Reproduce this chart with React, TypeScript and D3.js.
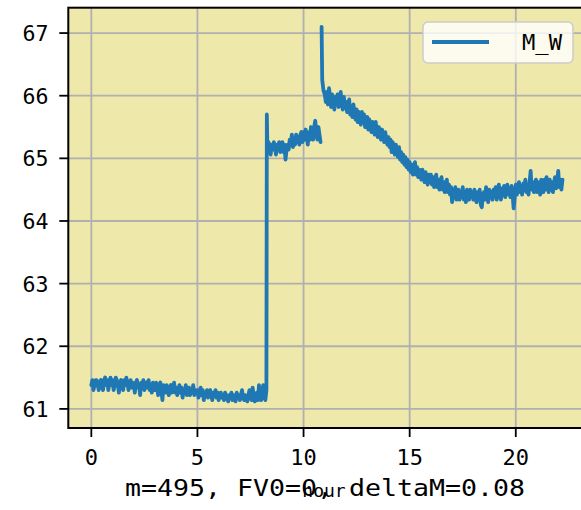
import React from "react";
import * as d3 from "d3";

// ---- data (hours, M_W) ----
const stepHours = 0.05;

const seg1Start = 0.0;
const seg1Values = [
  61.38, 61.46, 61.30, 61.38, 61.46, 61.46, 61.38, 61.30, 61.42, 61.46,
  61.38, 61.30, 61.46, 61.50, 61.38, 61.46, 61.30, 61.42, 61.50, 61.38,
  61.46, 61.30, 61.38, 61.50, 61.46, 61.38, 61.26, 61.42, 61.46, 61.38,
  61.30, 61.46, 61.38, 61.50, 61.42, 61.30, 61.38, 61.46, 61.34, 61.42,
  61.38, 61.26, 61.42, 61.46, 61.34, 61.38, 61.22, 61.42, 61.38, 61.46,
  61.30, 61.38, 61.42, 61.34, 61.46, 61.30, 61.38, 61.26, 61.42, 61.38,
  61.30, 61.42, 61.34, 61.22, 61.38, 61.42, 61.30, 61.14, 61.38, 61.34,
  61.26, 61.38, 61.30, 61.22, 61.34, 61.38, 61.26, 61.30, 61.42, 61.26,
  61.34, 61.22, 61.30, 61.38, 61.26, 61.34, 61.18, 61.30, 61.26, 61.38,
  61.22, 61.30, 61.34, 61.22, 61.30, 61.26, 61.38, 61.22, 61.30, 61.26,
  61.30, 61.18, 61.26, 61.34, 61.22, 61.30, 61.14, 61.26, 61.22, 61.30,
  61.18, 61.26, 61.30, 61.22, 61.14, 61.26, 61.22, 61.30, 61.18, 61.26,
  61.14, 61.22, 61.26, 61.18, 61.22, 61.14, 61.26, 61.22, 61.18, 61.12,
  61.22, 61.18, 61.26, 61.14, 61.22, 61.18, 61.12, 61.26, 61.18, 61.22,
  61.14, 61.22, 61.30, 61.18, 61.14, 61.22, 61.18, 61.12, 61.22, 61.30,
  61.18, 61.14, 61.34, 61.22, 61.12, 61.18, 61.26, 61.14, 61.38, 61.22,
  61.14, 61.26, 61.38, 61.18, 61.14, 61.30,
];

const jumpHours = [8.27];
const jumpValues = [65.70];

const seg2Start = 8.3;
const seg2Values = [
  65.10, 65.26, 65.18, 65.06, 65.22, 65.14, 65.26, 65.18, 65.06, 65.22,
  65.14, 65.26, 65.10, 65.18, 65.26, 65.10, 65.22, 64.98, 65.14, 65.22,
  65.14, 65.30, 65.22, 65.38, 65.18, 65.30, 65.22, 65.38, 65.26, 65.34,
  65.22, 65.38, 65.42, 65.26, 65.42, 65.30, 65.46, 65.34, 65.22, 65.42,
  65.30, 65.50, 65.38, 65.30, 65.50, 65.60, 65.42, 65.30, 65.50, 65.38,
  65.26,
];

const spikeHours = [10.85, 10.88, 10.94];
const spikeValues = [67.10, 66.25, 66.08];

const seg3Start = 11.0;
const seg3Values = [
  66.02, 65.90, 66.06, 65.86, 66.12, 65.98, 65.82, 66.02, 65.94, 65.78,
  65.98, 65.86, 66.02, 65.82, 65.94, 66.06, 65.86, 65.78, 65.98, 65.82,
  65.90, 65.74, 65.86, 65.94, 65.70, 65.82, 65.66, 65.86, 65.74, 65.62,
  65.78, 65.58, 65.74, 65.62, 65.54, 65.74, 65.58, 65.70, 65.50, 65.62,
  65.66, 65.46, 65.62, 65.50, 65.42, 65.58, 65.46, 65.38, 65.58, 65.42,
  65.34, 65.50, 65.38, 65.30, 65.46, 65.34, 65.26, 65.42, 65.30, 65.22,
  65.34, 65.18, 65.30, 65.10, 65.26, 65.14, 65.06, 65.22, 65.10, 65.02,
  65.18, 64.98, 65.10, 64.94, 65.06, 64.90, 65.02, 64.86, 64.98, 64.82,
  64.94, 64.78, 64.90, 64.74, 64.86, 64.94, 64.74, 64.86, 64.70, 64.82,
  64.78, 64.66, 64.82, 64.70, 64.62, 64.78, 64.66, 64.58, 64.74, 64.62,
  64.74, 64.58, 64.70, 64.54, 64.66, 64.74, 64.54, 64.66, 64.50, 64.62,
  64.70, 64.50, 64.62, 64.46, 64.58, 64.66, 64.46, 64.58, 64.42, 64.54,
  64.30, 64.50, 64.38, 64.54, 64.34, 64.46, 64.50, 64.34, 64.46, 64.38,
  64.54, 64.34, 64.46, 64.30, 64.50, 64.42, 64.34, 64.50, 64.38, 64.46,
  64.34, 64.50, 64.42, 64.30, 64.46, 64.34, 64.50, 64.26, 64.22, 64.42,
  64.46, 64.34, 64.54, 64.42, 64.30, 64.50, 64.38, 64.46, 64.34, 64.50,
  64.42, 64.54, 64.34, 64.50, 64.58, 64.42, 64.34, 64.52, 64.42, 64.56,
  64.38, 64.50, 64.58, 64.42, 64.52, 64.38, 64.56, 64.42, 64.20, 64.38,
  64.58, 64.42, 64.54, 64.62, 64.46, 64.56, 64.42, 64.60, 64.50, 64.66,
  64.46, 64.58, 64.42, 64.62, 64.80, 64.50, 64.62, 64.46, 64.58, 64.66,
  64.46, 64.62, 64.54, 64.42, 64.66, 64.54, 64.46, 64.66, 64.50, 64.70,
  64.54, 64.46, 64.66, 64.50, 64.62, 64.46, 64.60, 64.70, 64.52, 64.62,
  64.80, 64.54, 64.66, 64.50, 64.66,
];

const xTicks = [0, 5, 10, 15, 20];
const yTicks = [61, 62, 63, 64, 65, 66, 67];
const seriesName = "M_W";
const xLabel = "hour";
const bottomText = "m=495, FV0=0, deltaM=0.08";

type Pt = { h: number; v: number } | null;

function regular(start: number, vals: number[]): Pt[] {
  return vals.map((v, i) => ({ h: +(start + i * stepHours).toFixed(3), v }));
}
function explicit(hs: number[], vs: number[]): Pt[] {
  return hs.map((h, i) => ({ h, v: vs[i] }));
}

const points: Pt[] = [
  ...regular(seg1Start, seg1Values),
  ...explicit(jumpHours, jumpValues),
  ...regular(seg2Start, seg2Values),
  null,
  ...explicit(spikeHours, spikeValues),
  ...regular(seg3Start, seg3Values),
];

export default function App() {
  const W = 581;
  const H = 510;
  const left = 68.3;
  const right = 589;
  const top = 7.7;
  const bottom = 428;

  const x = d3.scaleLinear().domain([-1.085, 23.45]).range([left, right]);
  const y = d3.scaleLinear().domain([60.695, 67.405]).range([bottom, top]);

  const line = d3
    .line<Pt>()
    .defined((d) => d !== null)
    .x((d) => x((d as any).h))
    .y((d) => y((d as any).v));

  const mono = "'DejaVu Sans Mono', monospace";

  return (
    <svg
      width={W}
      height={H}
      style={{ position: "absolute", left: 0, top: 0, background: "#fff" }}
    >
      <defs>
        <clipPath id="plotclip">
          <rect x={left} y={top} width={right - left} height={bottom - top} />
        </clipPath>
      </defs>
      <rect x={left} y={top} width={right - left} height={bottom - top} fill="#eee8aa" />
      <g>
        {xTicks.map((t) => (
          <line key={"gx" + t} x1={x(t)} x2={x(t)} y1={top} y2={bottom} stroke="#b0b0b0" strokeWidth={1.8} />
        ))}
        {yTicks.map((t) => (
          <line key={"gy" + t} x1={left} x2={right} y1={y(t)} y2={y(t)} stroke="#b0b0b0" strokeWidth={1.8} />
        ))}
      </g>
      <path
        d={line(points) || ""}
        fill="none"
        stroke="#1f77b4"
        strokeWidth={3.8}
        strokeLinejoin="round"
        strokeLinecap="round"
        clipPath="url(#plotclip)"
      />
      {/* spines */}
      <rect x={left} y={top} width={right - left} height={bottom - top} fill="none" stroke="#000" strokeWidth={2} />
      {/* x ticks */}
      {xTicks.map((t) => (
        <g key={"xt" + t}>
          <line x1={x(t)} x2={x(t)} y1={bottom} y2={bottom + 9} stroke="#000" strokeWidth={1.8} />
          <text x={x(t)} y={465} textAnchor="middle" fontFamily={mono} fontSize={22} fill="#000">
            {t}
          </text>
        </g>
      ))}
      {/* y ticks */}
      {yTicks.map((t) => (
        <g key={"yt" + t}>
          <line x1={left - 9} x2={left} y1={y(t)} y2={y(t)} stroke="#000" strokeWidth={1.8} />
          <text x={48.5} y={y(t)} dy="0.36em" textAnchor="end" fontFamily={mono} fontSize={22} fill="#000" textLength={26} lengthAdjust="spacingAndGlyphs">
            {t}
          </text>
        </g>
      ))}
      {/* legend */}
      <g>
        <rect x={423} y={22} width={150} height={41} rx={5} fill="#ffffff" fillOpacity={0.8} stroke="#cccccc" strokeWidth={1.5} />
        <line x1={432} x2={489} y1={42} y2={42} stroke="#1f77b4" strokeWidth={3.8} />
        <text x={522} y={42} dy="0.36em" fontFamily={mono} fontSize={22} fill="#000" textLength={40} lengthAdjust="spacingAndGlyphs">
          {seriesName}
        </text>
      </g>
      {/* bottom text and x label */}
      <text x={125} y={496} fontFamily={mono} fontSize={23} fill="#000" textLength={400} lengthAdjust="spacingAndGlyphs">
        {bottomText}
      </text>
      <text x={324} y={497} textAnchor="middle" fontFamily={mono} fontSize={18} fill="#000">
        {xLabel}
      </text>
    </svg>
  );
}
